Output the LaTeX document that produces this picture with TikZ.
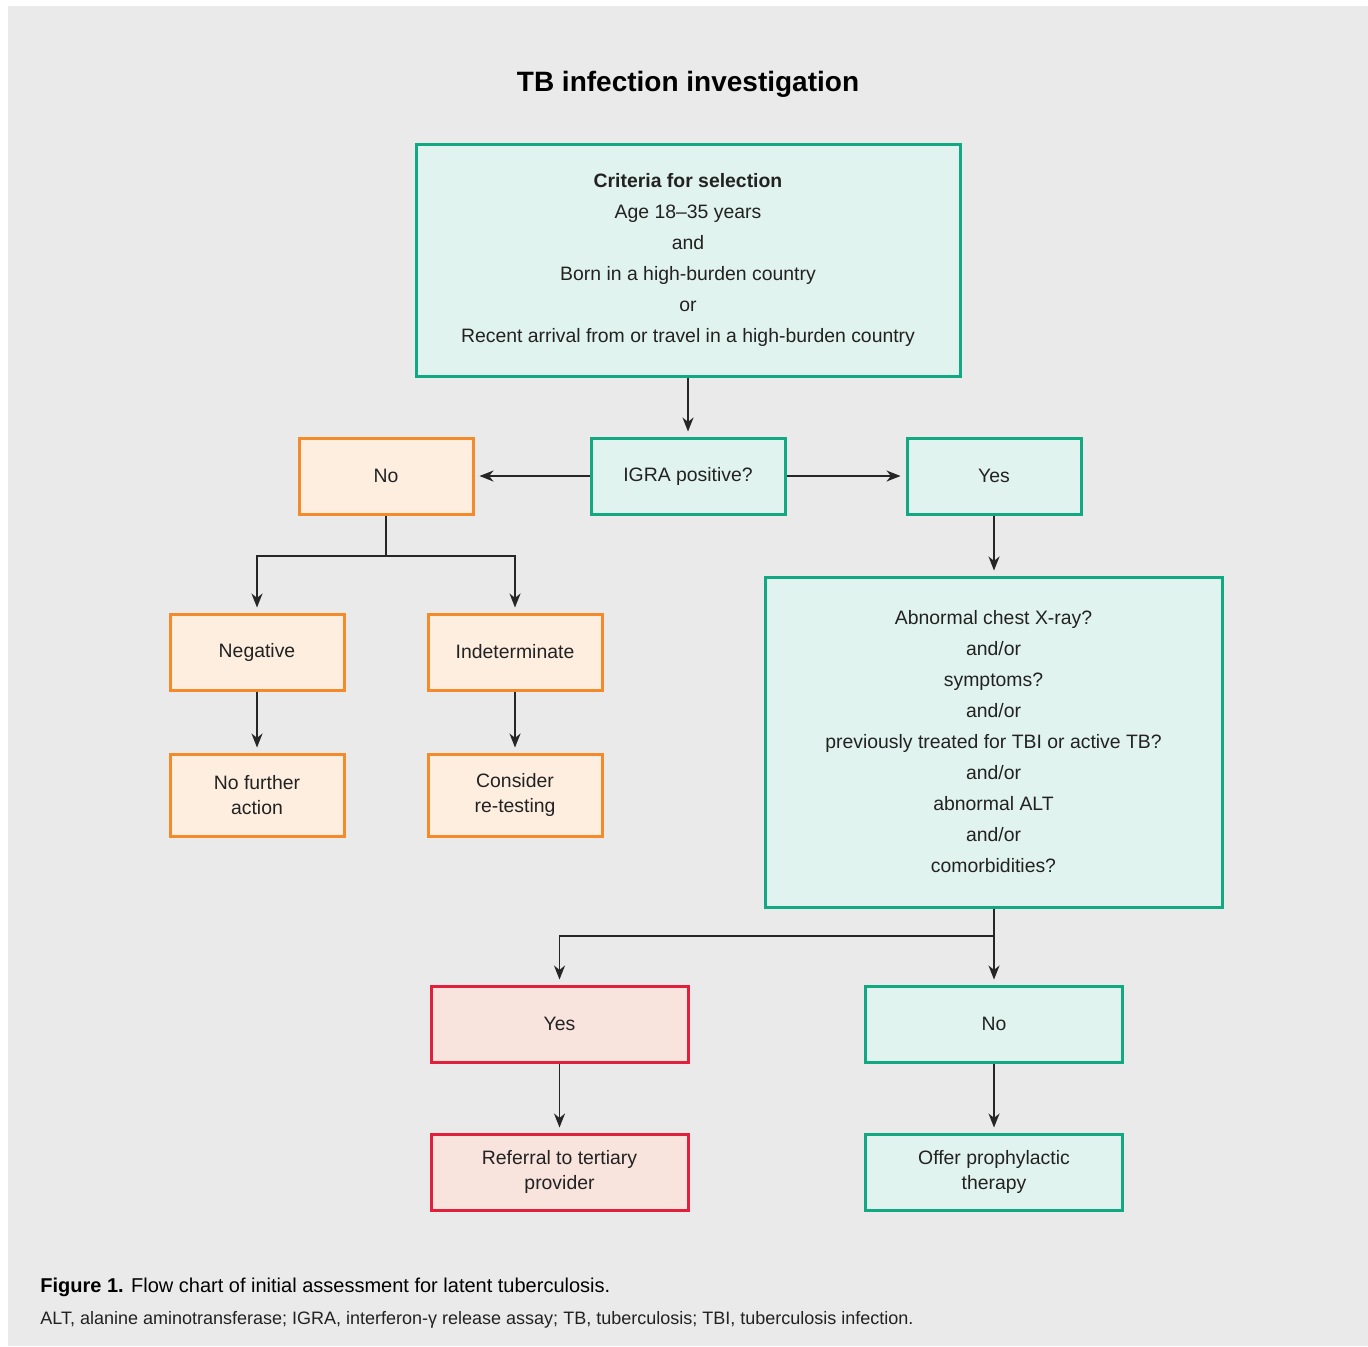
\documentclass[tikz,border=0pt]{standalone}
\usepackage{fontspec}
\setmainfont{Liberation Sans}
\usetikzlibrary{positioning,calc,arrows.meta}
\tikzset{>={Stealth[length=7pt,width=5.5pt,inset=2.2pt]}}

\definecolor{bggray}{HTML}{EAEAEA}
\definecolor{tealline}{HTML}{12A882}
\definecolor{tealfill}{HTML}{E1F3EE}
\definecolor{orangeline}{HTML}{F58A2A}
\definecolor{orangefill}{HTML}{FEEEE0}
\definecolor{redline}{HTML}{E0203D}
\definecolor{redfill}{HTML}{F8E4DD}
\definecolor{inktext}{HTML}{222222}

\begin{document}
\begin{tikzpicture}[
    x=0.5pt, y=-0.5pt,
    every node/.style={text=inktext, font=\fontsize{9.7}{15.5}\selectfont, align=center, inner sep=0pt},
    twoline/.style={font=\fontsize{9.7}{12.8}\selectfont},
    greenbox/.style={rectangle, draw=tealline, fill=tealfill, line width=1.5pt, minimum width=87pt, minimum height=38pt},
    orangebox/.style={rectangle, draw=orangeline, fill=orangefill, line width=1.5pt, minimum width=87pt, minimum height=38pt},
    redbox/.style={rectangle, draw=redline, fill=redfill, line width=1.5pt, minimum width=128.5pt, minimum height=38pt},
    link/.style={line width=0.75pt, draw=black!85},
    arrow/.style={link, ->, shorten >=2.5pt}
]
\useasboundingbox (0,0) rectangle (1368,1346);
\fill[bggray] (8,6) rectangle (1368,1346);

% title
\node[font=\fontsize{14}{16}\selectfont\bfseries, text=black] (title) at (688,84) {TB infection investigation};

% selection
\node[greenbox, minimum width=272pt, minimum height=116pt] (crit) at (688,260)
  {\textbf{Criteria for selection}\\Age 18--35 years\\and\\Born in a high-burden country\\or\\Recent arrival from or travel in a high-burden country};
\node[greenbox, minimum width=97pt] (igra) at (688,476) {IGRA positive?};
\node[orangebox] (no) at (386,476) {No};
\node[greenbox] (yes) at (994,476) {Yes};

% negative branch
\node[orangebox] (neg) at (257,652) {Negative};
\node[orangebox] (indet) at (515,652) {Indeterminate};
\node[orangebox, twoline, minimum height=41pt, below=30.5pt of neg] (noaction) {No further\\action};
\node[orangebox, twoline, minimum height=41pt, below=30.5pt of indet] (retest) {Consider\\re-testing};

% positive branch
\node[greenbox, minimum width=228.5pt, minimum height=165pt] (checks) at (993.5,742)
  {Abnormal chest X-ray?\\and/or\\symptoms?\\and/or\\previously treated for TBI or active TB?\\and/or\\abnormal ALT\\and/or\\comorbidities?};
\node[redbox] (ryes) at (559.5,1024) {Yes};
\node[greenbox, minimum width=128.5pt] (gno) at (994,1024) {No};
\node[redbox, twoline, below=34.5pt of ryes] (referral) {Referral to tertiary\\provider};
\node[greenbox, twoline, minimum width=128.5pt, below=34.5pt of gno] (offer) {Offer prophylactic\\therapy};

\coordinate (nosplit) at (386,556);
\coordinate (checksplit) at (994,936);

\draw[arrow] (crit) -- (igra);
\draw[arrow] (igra) -- (no);
\draw[arrow] (igra) -- (yes);
\draw[arrow] (yes) -- (yes |- checks.north);
\draw[link] (no) -- (nosplit);
\draw[arrow] (nosplit) -| (neg);
\draw[arrow] (nosplit) -| (indet);
\draw[arrow] (neg) -- (noaction);
\draw[arrow] (indet) -- (retest);
\draw[link] (checksplit |- checks.south) -- (checksplit);
\draw[arrow] (checksplit) -| (ryes);
\draw[arrow] (checksplit) -- (gno);
\draw[arrow] (ryes) -- (referral);
\draw[arrow] (gno) -- (offer);

% caption
\node[anchor=base west, text=black, font=\fontsize{10}{12}\selectfont] (caption) at (40,1292)
  {\textbf{Figure 1.} Flow chart of initial assessment for latent tuberculosis.};
\node[anchor=base west, font=\fontsize{9}{10}\selectfont] (abbrev) at (40,1324)
  {ALT, alanine aminotransferase; IGRA, interferon-γ release assay; TB, tuberculosis; TBI, tuberculosis infection.};
\end{tikzpicture}
\end{document}
